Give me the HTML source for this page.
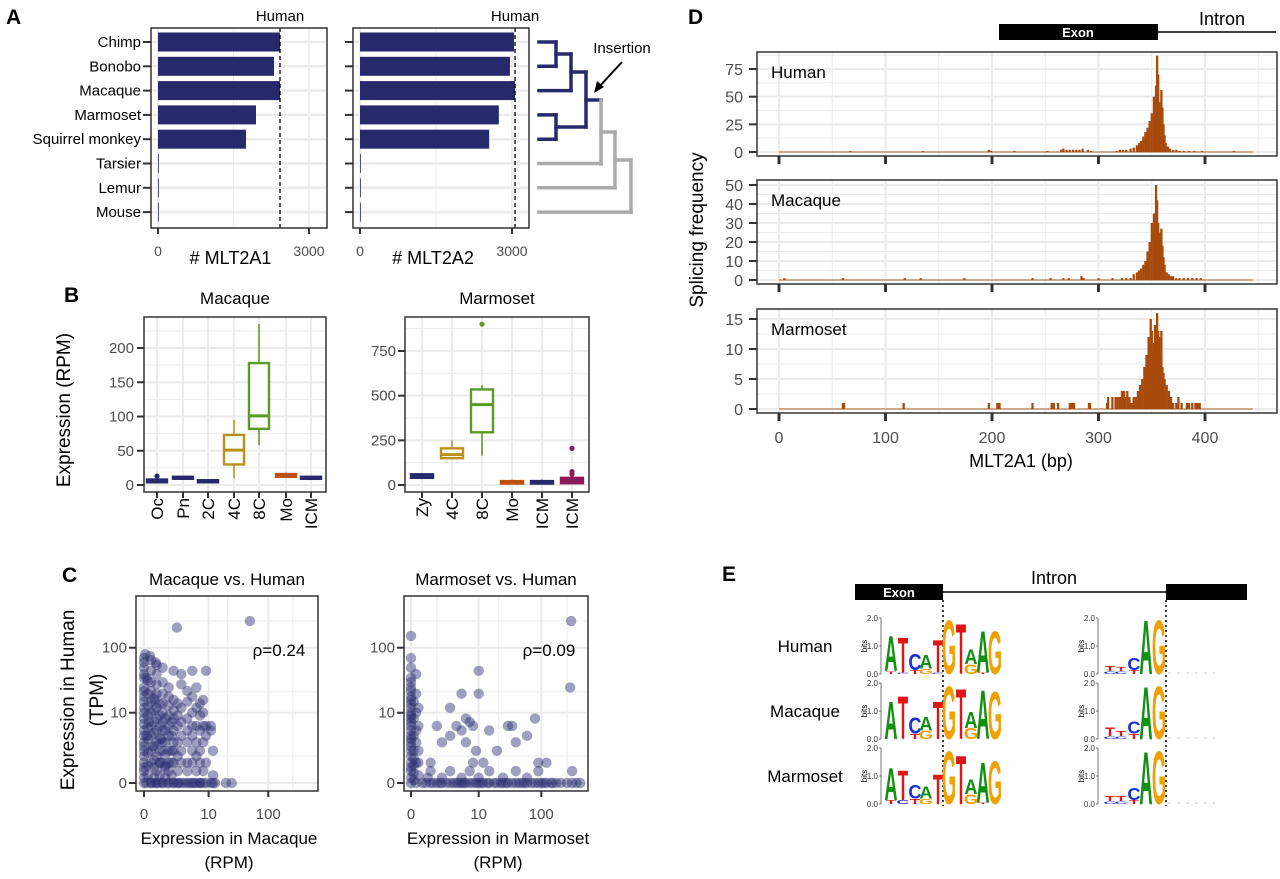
<!DOCTYPE html>
<html><head><meta charset="utf-8"><style>
html,body{margin:0;padding:0;background:#fff;}
svg{display:block;}
</style></head><body>
<svg id="fig" width="1280" height="879" viewBox="0 0 1280 879" xmlns="http://www.w3.org/2000/svg" font-family="Liberation Sans, sans-serif"></svg>
<script>
// ---------- Panel A data ----------
const speciesA = ['Chimp','Bonobo','Macaque','Marmoset','Squirrel monkey','Tarsier','Lemur','Mouse'];
const mlt2a1 = [2424,2305,2424,1947,1748,8,5,3];
const mlt2a2 = [3040,2960,3060,2740,2550,10,5,3];
const humanA1 = 2424;
const humanA2 = 3060;
const ticksA = [0,3000];
// ---------- Panel B data ----------
const catsB1 = ['Oc','Pn','2C','4C','8C','Mo','ICM'];
const b1Min = [3,9,3,10,58,11,8];
const b1Q1 = [4,10,4,30,82,12,9];
const b1Med = [6,11,5,51,101,14,10];
const b1Q3 = [8,12,7,73,178,16,12];
const b1Max = [10,13,8,95,235,18,13];
const b1Out = [[13],[],[],[],[],[],[]];
const ticksB1 = [0,50,100,150,200];
const catsB2 = ['Zy','4C','8C','Mo','ICM','ICM'];
const b2Min = [35,148,165,5,5,5];
const b2Q1 = [40,150,295,8,8,10];
const b2Med = [50,170,450,15,15,25];
const b2Q3 = [60,205,535,22,22,40];
const b2Max = [65,250,560,30,30,50];
const b2Out = [[],[],[900],[],[],[60,75,205]];
const ticksB2 = [0,250,500,750];
// ---------- Panel C data ----------
const macX = [0,0,0,0,0,0,0,0,0,0,0,0,0,0,0.3,0.3,0.3,0.3,0.3,0.3,0.3,0.3,0.3,0.3,0.3,0.6,0.6,0.6,0.6,0.6,0.6,0.6,0.6,0.6,0.6,0.6,1,1,1,1,1,1,1,1,1,1,1,1.5,1.5,1.5,1.5,1.5,1.5,1.5,1.5,1.5,1.5,2,2,2,2,2,2,2,2,2,2.5,2.5,2.5,2.5,2.5,2.5,2.5,3,3,3,3,3,3,3,3,4,4,4,4,4,4,4,4,5,5,5,5,5,5,5,5,6,6,6,6,6,6,6,7,7,7,7,7,7,8,8,8,8,8,8,9,9,9,9,9,11,11,11,12,12,12,13,20,25,2.4,50,0.1,0.2,0.4,0.8,1.2,0.1,0.5,0.9,
  0,0,0,0,0,0,0,0,0,0,0.15,0.15,0.15,0.15,0.15,0.15,0.15,0.15,0.15,0.45,0.45,0.45,0.45,0.45,0.45,0.45,0.45,0.8,0.8,0.8,0.8,0.8,0.8,0.8,1.2,1.2,1.2,1.2,1.2,1.2,1.8,1.8,1.8,1.8,1.8,0.1,0.3,0.5,0.7,1,1.4,2,2.6,3.5,4.5,5.5,7,0.05,0.25,0.55];
const humY1 = [0,0.5,1,2,3,5,8,12,18,25,35,50,60,70,0,1,2,4,6,10,15,22,30,45,65,0,0.5,1.5,3,5,8,12,20,28,40,55,0,1,2,3,5,7,10,14,20,30,50,0,0.5,1,2,4,6,9,13,18,25,0,1,2,3,5,8,11,16,45,0,0.5,1.5,3,6,9,14,0,1,2,4,7,12,28,40,0,0.5,1,3,5,8,15,22,0,1,2,4,6,10,18,45,0,0.5,1.5,3,6,12,25,0,1,2,5,9,14,0,0.5,3,6,10,16,0,1,4,6,45,0,5,6,0,0.3,2,0,0,0,200,250,4,7,2.5,1,0.7,35,16,3.5,
  0.2,0.7,1.5,2.5,4,6.5,10,15,22,40,0.3,0.8,1.8,3.5,5.5,9,13,20,32,0.2,0.7,1.2,2.5,4.5,7,11,17,0.3,1,2,3.5,6,9,14,0.2,0.8,1.6,3,5,8,0.3,1,2,4,7,0,0,0,0,0,0,0,0,0,0,0,0,80,75,60];
const marX = [0,0,0,0,0,0,0,0,0,0,0,0,0,0,0,0,0.2,0.2,0.2,0.2,0.2,0.2,0.2,0.5,1,1.5,2,3,4,5,6,8,10,12,15,20,25,30,40,50,60,80,100,120,150,200,300,400,1,3,7,15,40,90,1,1.5,2,3,3,4,5,5,6,6,7,8,8,9,10,10,12,15,20,30,35,40,60,80,90,120,280,290,300,
  0,0,0,0,0,0,0,0,0,0,0,0,0.1,0.1,0.1,0.1,0.1,0.1,0.1,0.1,0.3,0.3,0.3,0.3,0.3,0.7,1.2,1.8,2.5,3.5,4.5,5.5,7,9,11,14,18,23,28,35,45,55,70,90,110,140,170,250,350,0.8,2,5,10,25,60];
const humY2 = [0,0.5,1,2,3,4,6,8,10,14,18,25,35,50,70,150,0,1,3,5,10,20,40,0,0,0,0,0,0,0,0,0,0,0,0,0,0,0,0,0,0,0,0,0,0,0,0,0,0.5,0.5,0.5,0.5,0.5,0.5,1,6,3,4,12,6,5,20,8,3,7,1,6,2,45,20,1,5,2,6,6,3,4,8,1,1,25,250,0.5,
  0.2,0.7,1.5,2.5,3.5,5,7,9,12,16,22,30,0.1,0.4,0.8,1.3,2,4,8,15,0.3,1,2,6,12,0,0,0,0,0,0,0,0,0,0,0,0,0,0,0,0,0,0,0,0,0,0,0,0,0.2,0.2,0.2,0.2,0.2,0.2];
const ticksC = [0,10,100];
const rho1 = 'ρ=0.24', rho2 = 'ρ=0.09';
// ---------- Panel D data ----------
const humPos = [67,135,197,199,221,252,265,267,270,273,276,279,282,285,290,293,317,320,323,326,330,333,336,338,340,342,344,346,348,350,352,353,354,355,356,357,358,359,360,361,362,363,365,367,370,373,376,380,385,390,397,427];
const humVal = [1,1,2,1,1,1,2,3,2,2,2,2,2,3,2,1,1,2,2,2,3,4,6,8,10,14,18,22,28,35,50,42,60,87,70,45,38,56,40,25,15,8,5,3,2,2,1,1,1,1,1,1];
const macPos = [5,60,118,133,174,238,255,267,272,284,286,300,313,322,326,330,333,336,338,340,342,344,346,348,350,352,353,354,355,356,357,358,359,360,361,362,364,366,368,370,373,376,380,384,388,392,396];
const macVal = [1,1,1,1,1,1,1,1,1,2,1,1,1,1,1,1,3,4,5,6,8,10,15,20,30,35,28,50,42,30,22,25,27,18,12,8,4,3,2,2,1,1,1,1,1,1,1];
const marPos = [60,61,117,197,205,206,207,238,256,258,262,273,275,276,277,291,292,308,309,313,316,318,320,322,324,325,327,329,331,333,335,337,339,341,343,345,347,348,349,350,351,352,353,354,355,356,357,358,359,360,361,362,364,366,368,370,373,375,378,383,385,388,391,393,395];
const marVal = [1,1,1,1,1,1,1,1,1,1,1,1,1,1,1,1,1,1,2,2,2,2,2,3,3,2,3,2,1,2,2,3,4,5,7,9,12,10,15,13,9,11,14,10,16,13,12,9,13,7,6,5,4,3,2,1,1,2,1,1,1,1,1,1,1];
const ticksDx = [0,100,200,300,400];
const ticksDhum = [0,25,50,75];
const ticksDmac = [0,10,20,30,40,50];
const ticksDmar = [0,5,10,15];
// ---------- Panel E data (bottom-to-top stacks: letter, bits) ----------
const logoLeftHuman = [[['T',0.1],['A',1.3]],[['C',0.05],['T',1.3]],[['T',0.15],['C',0.6]],[['G',0.2],['A',0.5]],[['C',0.05],['T',1.2]],[['G',2.0]],[['T',1.85]],[['G',0.35],['A',0.55]],[['T',0.05],['A',1.55]],[['G',1.6]]];
const logoLeftMacaque = [[['A',1.4]],[['T',1.6]],[['T',0.2],['C',0.6]],[['G',0.3],['A',0.5]],[['T',1.4]],[['G',1.95]],[['T',1.85]],[['G',0.4],['A',0.6]],[['A',1.8]],[['G',1.75]]];
const logoLeftMarmoset = [[['T',0.15],['A',1.2]],[['C',0.15],['T',1.1]],[['T',0.2],['C',0.5]],[['G',0.2],['A',0.45]],[['T',1.1]],[['G',1.95]],[['T',1.8]],[['G',0.35],['A',0.55]],[['T',0.05],['A',1.5]],[['G',1.6]]];
const logoRightHuman = [[['C',0.1],['T',0.2]],[['C',0.1],['T',0.15]],[['T',0.15],['C',0.45]],[['A',2.0]],[['G',2.0]]];
const logoRightMacaque = [[['C',0.1],['T',0.3]],[['C',0.1],['T',0.2]],[['T',0.2],['C',0.45]],[['A',1.95]],[['G',1.95]]];
const logoRightMarmoset = [[['C',0.1],['T',0.2]],[['C',0.1],['T',0.2]],[['T',0.15],['C',0.45]],[['A',1.95]],[['G',1.95]]];
const logoSpecies = ['Human','Macaque','Marmoset'];

// ---------- helpers ----------
const NS = 'http://www.w3.org/2000/svg';
const svg = document.getElementById('fig');
function mk(tag, attrs, name, parent) {
  const e = document.createElementNS(NS, tag);
  for (const k in attrs) e.setAttribute(k, attrs[k]);
  
  
  (parent || svg).appendChild(e);
  return e;
}
function txt(x, y, s, opts, name) {
  const t = mk('text', Object.assign({x: x, y: y}, opts || {}), name);
  t.textContent = s;
  return t;
}
function line(x1,y1,x2,y2,stroke,w,name,extra){ return mk('line',Object.assign({x1,y1,x2,y2,stroke,'stroke-width':w},extra||{}),name); }
const GRID = '#ebebeb', AX = '#333', TK = '#4d4d4d';
const NAVY = '#262a6b';

// ---------- Panel A ----------
txt(6,24,'A',{'font-size':21,'font-weight':'bold'},'panel-label-a');
const yA = i => 42 + i * 24.3;
function panelA(vals, human, bx0, bx1, x0, x3000, xlabel, tag, showCats) {
  const xs = v => x0 + v * (x3000 - x0) / 3000;
  mk('rect',{x:bx0,y:28,width:bx1-bx0,height:200,fill:'#fff'},'plot-background-'+tag);
  line(xs(1500),28,xs(1500),228,GRID,1,'grid-x-minor-'+tag);
  ticksA.forEach(t => line(xs(t),28,xs(t),228,GRID,1.6,'grid-x-'+tag));
  speciesA.forEach((s,i) => line(bx0,yA(i),bx1,yA(i),GRID,2.5,'grid-y-'+tag));
  vals.forEach((v,i) => mk('rect',{x:xs(0),y:yA(i)-9.5,width:Math.max(0.8,xs(v)-xs(0)),height:19,fill:NAVY},'bar-'+tag+'-'+speciesA[i].toLowerCase().replace(' ','-')));
  line(xs(human),28,xs(human),228,'#000',1.3,'human-line-'+tag,{'stroke-dasharray':'4,3'});
  txt(xs(human),21,'Human',{'font-size':15,'text-anchor':'middle'},'human-label-'+tag);
  mk('rect',{x:bx0,y:28,width:bx1-bx0,height:200,fill:'none',stroke:AX,'stroke-width':1.5},'plot-border-'+tag);
  speciesA.forEach((s,i) => {
    line(bx0-8,yA(i),bx0,yA(i),AX,2,'y-tick-'+tag);
    if (showCats) txt(bx0-10,yA(i)+5,s,{'font-size':15,'text-anchor':'end'},'species-label');
  });
  ticksA.forEach(t => { line(xs(t),228,xs(t),234,AX,2,'x-tick-'+tag); txt(xs(t),256,String(t),{'font-size':14,'text-anchor':'middle',fill:TK},'x-tick-label-'+tag); });
  txt((x0+x3000)/2-3,264,xlabel,{'font-size':18,'text-anchor':'middle'},'x-axis-title-'+tag);
}
panelA(mlt2a1, humanA1, 151, 327, 158, 309, '# MLT2A1', 'a1', true);
panelA(mlt2a2, humanA2, 353, 529, 360, 512, '# MLT2A2', 'a2', false);
// tree
const tr = [[539,yA(0),556,yA(0)],[539,yA(1),556,yA(1)],[556,yA(0),556,yA(1)],[556,54,571,54],[539,yA(2),571,yA(2)],[571,54,571,yA(2)],
  [539,yA(3),556,yA(3)],[539,yA(4),556,yA(4)],[556,yA(3),556,yA(4)],[556,127,586,127],[571,72,586,72],[586,72,586,127],[586,100,601,100]];
tr.forEach(s => line(s[0],s[1],s[2],s[3],NAVY,3.5,'tree-branch-primate',{'stroke-linecap':'square'}));
const tg = [[601,100,601,164],[539,yA(5),601,yA(5)],[601,132,615,132],[539,yA(6),615,yA(6)],[615,132,615,yA(6)],[615,160,631,160],[539,yA(7),631,yA(7)],[631,160,631,yA(7)]];
tg.forEach(s => line(s[0],s[1],s[2],s[3],'#aaaaaa',3.5,'tree-branch-outgroup',{'stroke-linecap':'square'}));
txt(622,53,'Insertion',{'font-size':15,'text-anchor':'middle'},'insertion-label');
line(622,62,598,88,'#000',2,'insertion-arrow-shaft');
mk('polygon',{points:'594,93 597,81 604,87',fill:'#000'},'insertion-arrow-head');

// ---------- Panel B ----------
txt(64,302,'B',{'font-size':21,'font-weight':'bold'},'panel-label-b');
txt(70,410,'Expression (RPM)',{'font-size':19,'text-anchor':'middle',transform:'rotate(-90 70 410)'},'y-axis-title-b');
function panelB(cats, cx, colors, mn, q1, md, q3, mx, out, ticks, ys, step, bx0, bx1, bw, title, tag, tickLabelX) {
  const top = 317, bot = 492;
  mk('rect',{x:bx0,y:top,width:bx1-bx0,height:bot-top,fill:'#fff'},'plot-background-'+tag);
  ticks.forEach(t => { const ym = ys(t + step/2); if (ym > top) line(bx0,ym,bx1,ym,GRID,1,'grid-y-minor-'+tag); line(bx0,ys(t),bx1,ys(t),GRID,2,'grid-y-'+tag); });
  cats.forEach((c,i) => line(cx[i],top,cx[i],bot,GRID,2,'grid-x-'+tag));
  cats.forEach((c,i) => {
    const col = colors[i];
    line(cx[i],ys(mx[i]),cx[i],ys(q3[i]),col,1.5,'whisker-upper-'+tag+'-'+c);
    line(cx[i],ys(q1[i]),cx[i],ys(mn[i]),col,1.5,'whisker-lower-'+tag+'-'+c);
    mk('rect',{x:cx[i]-bw/2,y:ys(q3[i]),width:bw,height:Math.max(2,ys(q1[i])-ys(q3[i])),fill:'#fff',stroke:col,'stroke-width':2.4},'box-'+tag+'-'+c);
    line(cx[i]-bw/2,ys(md[i]),cx[i]+bw/2,ys(md[i]),col,3,'median-'+tag+'-'+c);
    out[i].forEach(o => mk('circle',{cx:cx[i],cy:ys(o),r:2.6,fill:col},'outlier-'+tag+'-'+c));
    line(cx[i],bot,cx[i],bot+6,AX,2,'x-tick-'+tag);
    txt(cx[i]+6,bot+6,c,{'font-size':17,'text-anchor':'end',transform:'rotate(-90 '+(cx[i]+6)+' '+(bot+6)+')'},'x-tick-label-'+tag);
  });
  mk('rect',{x:bx0,y:top,width:bx1-bx0,height:bot-top,fill:'none',stroke:AX,'stroke-width':1.5},'plot-border-'+tag);
  ticks.forEach(t => { line(bx0-7,ys(t),bx0,ys(t),AX,2,'y-tick-'+tag); txt(tickLabelX,ys(t)+5,String(t),{'font-size':15,'text-anchor':'end',fill:TK},'y-tick-label-'+tag); });
  txt((bx0+bx1)/2,304,title,{'font-size':17,'text-anchor':'middle'},'title-'+tag);
}
const yB1 = v => 485 - v * 137 / 200;
const yB2 = v => 485 - v * 134 / 750;
panelB(catsB1,[157,183,208,234,259,286,311],[NAVY,NAVY,NAVY,'#b8901a','#5b9a23','#c0500f',NAVY],b1Min,b1Q1,b1Med,b1Q3,b1Max,b1Out,ticksB1,yB1,50,144,326,20,'Macaque','b-macaque',134);
panelB(catsB2,[422,452,482,512,542,572],[NAVY,'#b8901a','#5b9a23','#c0500f',NAVY,'#8b1a5a'],b2Min,b2Q1,b2Med,b2Q3,b2Max,b2Out,ticksB2,yB2,250,405,589,22,'Marmoset','b-marmoset',396);

// ---------- Panel C ----------
txt(62,582,'C',{'font-size':21,'font-weight':'bold'},'panel-label-c');
const yC = v => 783 - Math.log10(v + 1) * 67.5;
function panelC(xv, yv, bx0, bx1, x0, kx, title, xlabel, rho, tag) {
  const top = 596, bot = 791;
  const xs = v => x0 + Math.log10(v + 1) * kx;
  mk('rect',{x:bx0,y:top,width:bx1-bx0,height:bot-top,fill:'#fff'},'plot-background-'+tag);
  [0.4,1.35,2.4].forEach(m => { line(bx0,783-m*67.5,bx1,783-m*67.5,GRID,1,'grid-y-minor-'+tag); line(x0+m*kx,top,x0+m*kx,bot,GRID,1,'grid-x-minor-'+tag); });
  ticksC.forEach(t => { line(bx0,yC(t),bx1,yC(t),GRID,2,'grid-y-'+tag); line(xs(t),top,xs(t),bot,GRID,2,'grid-x-'+tag); });
  xv.forEach((v,i) => mk('circle',{cx:xs(v),cy:yC(yv[i]),r:5.2,fill:'#2b2d70','fill-opacity':0.45},'point-'+tag));
  mk('rect',{x:bx0,y:top,width:bx1-bx0,height:bot-top,fill:'none',stroke:AX,'stroke-width':1.5},'plot-border-'+tag);
  ticksC.forEach(t => {
    line(bx0-7,yC(t),bx0,yC(t),AX,2,'y-tick-'+tag);
    txt(bx0-9,yC(t)+5,String(t),{'font-size':15,'text-anchor':'end',fill:TK},'y-tick-label-'+tag);
    line(xs(t),bot,xs(t),bot+6,AX,2,'x-tick-'+tag);
    txt(xs(t),819,String(t),{'font-size':15,'text-anchor':'middle',fill:TK},'x-tick-label-'+tag);
  });
  txt((bx0+bx1)/2,585,title,{'font-size':17,'text-anchor':'middle'},'title-'+tag);
  txt(bx1-39,656,rho,{'font-size':17,'text-anchor':'middle'},'rho-'+tag);
  txt((bx0+bx1)/2+2,844,xlabel,{'font-size':17,'text-anchor':'middle'},'x-axis-title-'+tag);
  txt((bx0+bx1)/2+2,868,'(RPM)',{'font-size':17,'text-anchor':'middle'},'x-axis-units-'+tag);
}
panelC(macX, humY1, 136, 318, 144, 62, 'Macaque vs. Human', 'Expression in Macaque', rho1, 'c-macaque');
panelC(marX, humY2, 404, 588, 411, 65, 'Marmoset vs. Human', 'Expression in Marmoset', rho2, 'c-marmoset');
txt(74,700,'Expression in Human',{'font-size':19,'text-anchor':'middle',transform:'rotate(-90 74 700)'},'y-axis-title-c');
txt(103,700,'(TPM)',{'font-size':19,'text-anchor':'middle',transform:'rotate(-90 103 700)'},'y-axis-units-c');

// ---------- Panel D ----------
txt(688,24,'D',{'font-size':21,'font-weight':'bold'},'panel-label-d');
const xD = v => 779 + v * 1.065;
mk('rect',{x:999,y:24,width:159,height:16,fill:'#000'},'exon-bar-d');
txt(1078,37,'Exon',{'font-size':13,'font-weight':'bold','text-anchor':'middle',fill:'#fff'},'exon-label-d');
line(1158,32,1276,32,'#000',1.5,'intron-line-d');
txt(1222,25,'Intron',{'font-size':18,'text-anchor':'middle'},'intron-label-d');
function panelD(pos, val, ticks, top, bot, y0, yTop, vTop, name, tag) {
  const ys = v => y0 - v * (y0 - yTop) / vTop;
  const bx0 = 757, bx1 = 1277;
  mk('rect',{x:bx0,y:top,width:bx1-bx0,height:bot-top,fill:'#fff'},'plot-background-'+tag);
  const st = ticks[1]-ticks[0];
  ticks.forEach(t => { const ym = ys(t+st/2); if (ym > top) line(bx0,ym,bx1,ym,GRID,1,'grid-y-minor-'+tag); line(bx0,ys(t),bx1,ys(t),GRID,2,'grid-y-'+tag); });
  [50,150,250,350,450].forEach(t => line(xD(t),top,xD(t),bot,GRID,1,'grid-x-minor-'+tag));
  ticksDx.forEach(t => line(xD(t),top,xD(t),bot,GRID,2,'grid-x-'+tag));
  line(xD(0),y0,xD(445),y0,'#b5652a',1,'baseline-'+tag);
  pos.forEach((p,i) => mk('rect',{x:xD(p)-1.1,y:ys(val[i]),width:2.3,height:y0-ys(val[i]),fill:'#a84a0c'},'hist-bar-'+tag));
  mk('rect',{x:bx0,y:top,width:bx1-bx0,height:bot-top,fill:'none',stroke:AX,'stroke-width':1.5},'plot-border-'+tag);
  ticks.forEach(t => { line(bx0-8,ys(t),bx0,ys(t),AX,2,'y-tick-'+tag); txt(bx0-14,ys(t)+6,String(t),{'font-size':16,'text-anchor':'end',fill:TK},'y-tick-label-'+tag); });
  ticksDx.forEach(t => line(xD(t),bot,xD(t),bot+8,AX,3,'x-tick-'+tag));
  txt(771,top+26,name,{'font-size':17},'species-label-'+tag);
}
panelD(humPos, humVal, ticksDhum, 52, 156, 152, 69, 75, 'Human', 'd-human');
panelD(macPos, macVal, ticksDmac, 180, 284, 280, 185, 50, 'Macaque', 'd-macaque');
panelD(marPos, marVal, ticksDmar, 309, 413, 409, 319, 15, 'Marmoset', 'd-marmoset');
ticksDx.forEach(t => txt(xD(t),443,String(t),{'font-size':16,'text-anchor':'middle',fill:TK},'x-tick-label-d'));
txt(1021,467,'MLT2A1 (bp)',{'font-size':18,'text-anchor':'middle'},'x-axis-title-d');
txt(703,230,'Splicing frequency',{'font-size':19,'text-anchor':'middle',transform:'rotate(-90 703 230)'},'y-axis-title-d');

// ---------- Panel E ----------
txt(722,581,'E',{'font-size':21,'font-weight':'bold'},'panel-label-e');
mk('rect',{x:855,y:584,width:88,height:16,fill:'#000'},'exon-bar-left');
txt(899,597,'Exon',{'font-size':13,'font-weight':'bold','text-anchor':'middle',fill:'#fff'},'exon-label-e');
line(943,592,1166,592,'#000',1.5,'intron-line-e');
mk('rect',{x:1166,y:584,width:81,height:16,fill:'#000'},'exon-bar-right');
txt(1054,584,'Intron',{'font-size':18,'text-anchor':'middle'},'intron-label-e');
line(943,600,943,806,'#000',1.5,'splice-donor-line',{'stroke-dasharray':'2,3'});
line(1166,600,1166,806,'#000',1.5,'splice-acceptor-line',{'stroke-dasharray':'2,3'});
const LCOL = {A:'#119011',C:'#1a30d0',G:'#f0a000',T:'#e01515'};
const rowBase = [674,739,804];
const BIT = 28;
const leftX = [891,903,915,926,938,949,961,971,983,995];
const rightX = [1110,1121,1134,1146,1159];
function logoAxis(ax, base, tag) {
  line(ax,base-2*BIT,ax,base,'#555',0.8,'logo-axis-'+tag);
  [0,1,2].forEach(b => { line(ax-2,base-b*BIT,ax,base-b*BIT,'#555',0.8,'logo-tick-'+tag); txt(ax-3,base-b*BIT+3,b.toFixed(1),{'font-size':8,'text-anchor':'end',fill:'#333'},'logo-tick-label-'+tag); });
  txt(ax-14,base-BIT,'bits',{'font-size':8,'text-anchor':'middle',transform:'rotate(-90 '+(ax-14)+' '+(base-BIT)+')'},'logo-bits-label-'+tag);
}
function logo(stacks, xs, base, tag) {
  stacks.forEach((st,i) => {
    let y = base;
    st.forEach(([ch,b]) => {
      const h = b * BIT;
      if (h < 0.5) return;
      const t = mk('text',{x:0,y:0,'font-size':14,'font-weight':'bold','text-anchor':'middle',fill:LCOL[ch],transform:'translate('+xs[i]+' '+y+') scale('+(ch==='T'?1.2:1.3)+' '+(h/10.2)+')'},'logo-letter-'+tag);
      t.textContent = ch;
      y -= h;
    });
  });
}
const leftRows = [logoLeftHuman, logoLeftMacaque, logoLeftMarmoset];
const rightRows = [logoRightHuman, logoRightMacaque, logoRightMarmoset];
logoSpecies.forEach((s,r) => {
  txt(805,rowBase[r]-22,s,{'font-size':17,'text-anchor':'middle'},'logo-species-label');
  logoAxis(881,rowBase[r],'left');
  logoAxis(1098,rowBase[r],'right');
  logo(leftRows[r], leftX, rowBase[r], 'donor-'+s.toLowerCase());
  logo(rightRows[r], rightX, rowBase[r], 'acceptor-'+s.toLowerCase());
  line(1168,rowBase[r]-1,1215,rowBase[r]-1,'#ccc',1,'logo-tail',{'stroke-dasharray':'3,6'});
});
</script>
</body></html>
